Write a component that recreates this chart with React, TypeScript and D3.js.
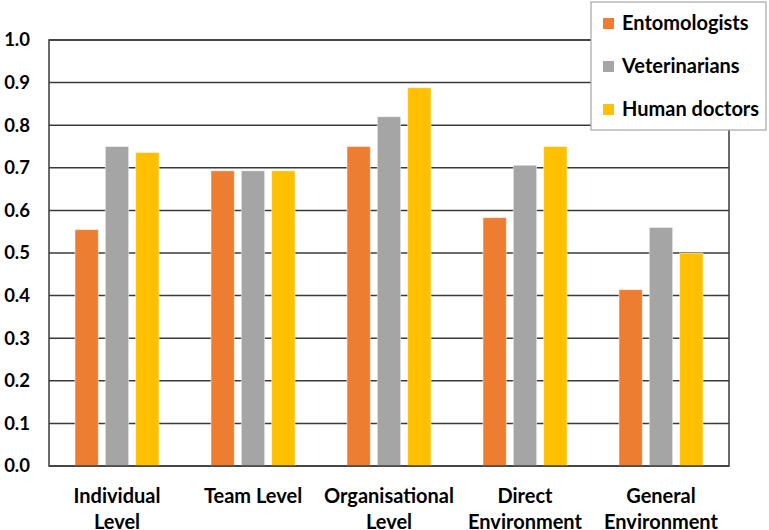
import * as d3 from "d3";
import { useEffect, useRef } from "react";

const categories = [
  ["Individual", "Level"],
  ["Team Level"],
  ["Organisational", "Level"],
  ["Direct", "Environment"],
  ["General", "Environment"],
];
const seriesNames = ["Entomologists", "Veterinarians", "Human doctors"];
const seriesColors = ["#ED7D31", "#A5A5A5", "#FFC000"];
const entomologists = [0.555, 0.693, 0.75, 0.583, 0.414];
const veterinarians = [0.75, 0.693, 0.82, 0.706, 0.56];
const humanDoctors = [0.736, 0.693, 0.888, 0.75, 0.5];
const yTicks = [0, 0.1, 0.2, 0.3, 0.4, 0.5, 0.6, 0.7, 0.8, 0.9, 1.0];

const W = 769;
const H = 530;
const FONT = "Lato, 'Open Sans', sans-serif";

const App = () => {
  const svgRef = useRef<SVGSVGElement | null>(null);

  useEffect(() => {
    const margin = { top: 40, right: 40, bottom: 64, left: 49 };
    const width = W - margin.left - margin.right;
    const height = H - margin.top - margin.bottom;

    d3.select(svgRef.current).selectAll("*").remove();

    const svg = d3
      .select(svgRef.current)
      .attr("width", W)
      .attr("height", H)
      .append("g")
      .attr("transform", `translate(${margin.left},${margin.top})`);

    const keys = categories.map((c) => c.join(" "));
    const series = [entomologists, veterinarians, humanDoctors];

    const x0 = d3
      .scaleBand()
      .domain(keys)
      .range([0, width])
      .paddingInner(0.382)
      .paddingOuter(0.191);

    const x1 = d3
      .scaleBand()
      .domain(seriesNames)
      .range([0, x0.bandwidth()])
      .paddingInner(0.23);

    const y = d3.scaleLinear().domain([0, 1]).range([height, 0]);

    // gridlines
    svg
      .append("g")
      .selectAll("line")
      .data(yTicks)
      .join("line")
      .attr("x1", 0)
      .attr("x2", width)
      .attr("y1", (d) => y(d))
      .attr("y2", (d) => y(d))
      .attr("stroke", "#3a3a3a")
      .attr("stroke-width", 1.5);

    // y labels
    svg
      .append("g")
      .selectAll("text")
      .data(yTicks)
      .join("text")
      .attr("x", -19)
      .attr("y", (d) => y(d))
      .attr("dy", "0.35em")
      .attr("text-anchor", "end")
      .attr("font-family", FONT)
      .attr("font-weight", "bold")
      .attr("font-size", 18.5)
      .attr("fill", "#000")
      .text((d) => d.toFixed(1));

    // bars
    const groups = svg
      .append("g")
      .selectAll("g")
      .data(keys)
      .join("g")
      .attr("transform", (d) => `translate(${x0(d)},0)`);

    groups
      .selectAll("rect")
      .data((_, i) => series.map((s, j) => ({ name: seriesNames[j], value: s[i], color: seriesColors[j] })))
      .join("rect")
      .attr("x", (d) => x1(d.name) || 0)
      .attr("y", (d) => y(d.value))
      .attr("width", x1.bandwidth())
      .attr("height", (d) => height - y(d.value))
      .attr("fill", (d) => d.color)
      .attr("stroke", "#ffffff")
      .attr("stroke-opacity", 0.5)
      .attr("stroke-width", 1);

    // frame
    svg
      .append("rect")
      .attr("x", 0)
      .attr("y", 0)
      .attr("width", width)
      .attr("height", height)
      .attr("fill", "none")
      .attr("stroke", "#3a3a3a")
      .attr("stroke-width", 1.5);

    // x labels
    const xl = svg
      .append("g")
      .selectAll("text")
      .data(categories)
      .join("text")
      .attr("x", (d) => (x0(d.join(" ")) || 0) + x0.bandwidth() / 2)
      .attr("y", height + 37)
      .attr("text-anchor", "middle")
      .attr("font-family", FONT)
      .attr("font-weight", "bold")
      .attr("font-size", 20)
      .attr("fill", "#000");
    xl.selectAll("tspan")
      .data((d) => d)
      .join("tspan")
      .attr("x", function () {
        return (this.parentNode as SVGTextElement).getAttribute("x");
      })
      .attr("dy", (_, i) => (i === 0 ? 0 : 26))
      .text((d) => d);

    // legend
    const lg = d3
      .select(svgRef.current)
      .append("g")
      .attr("transform", "translate(591,2)");
    lg.append("rect")
      .attr("width", 175)
      .attr("height", 128)
      .attr("fill", "#fff")
      .attr("stroke", "#a6a6a6")
      .attr("stroke-width", 1.2);
    const items = lg
      .selectAll("g.item")
      .data(seriesNames)
      .join("g")
      .attr("class", "item")
      .attr("transform", (_, i) => `translate(0,${21 + i * 43})`);
    items
      .append("rect")
      .attr("x", 12)
      .attr("y", -5)
      .attr("width", 11)
      .attr("height", 11)
      .attr("fill", (_, i) => seriesColors[i]);
    items
      .append("text")
      .attr("x", 31)
      .attr("y", 0)
      .attr("dy", "0.36em")
      .attr("font-family", FONT)
      .attr("font-weight", "bold")
      .attr("font-size", 20)
      .attr("fill", "#000")
      .text((d) => d);
  }, []);

  return <svg ref={svgRef} style={{ position: "absolute", left: 0, top: 0 }} />;
};

export default App;
